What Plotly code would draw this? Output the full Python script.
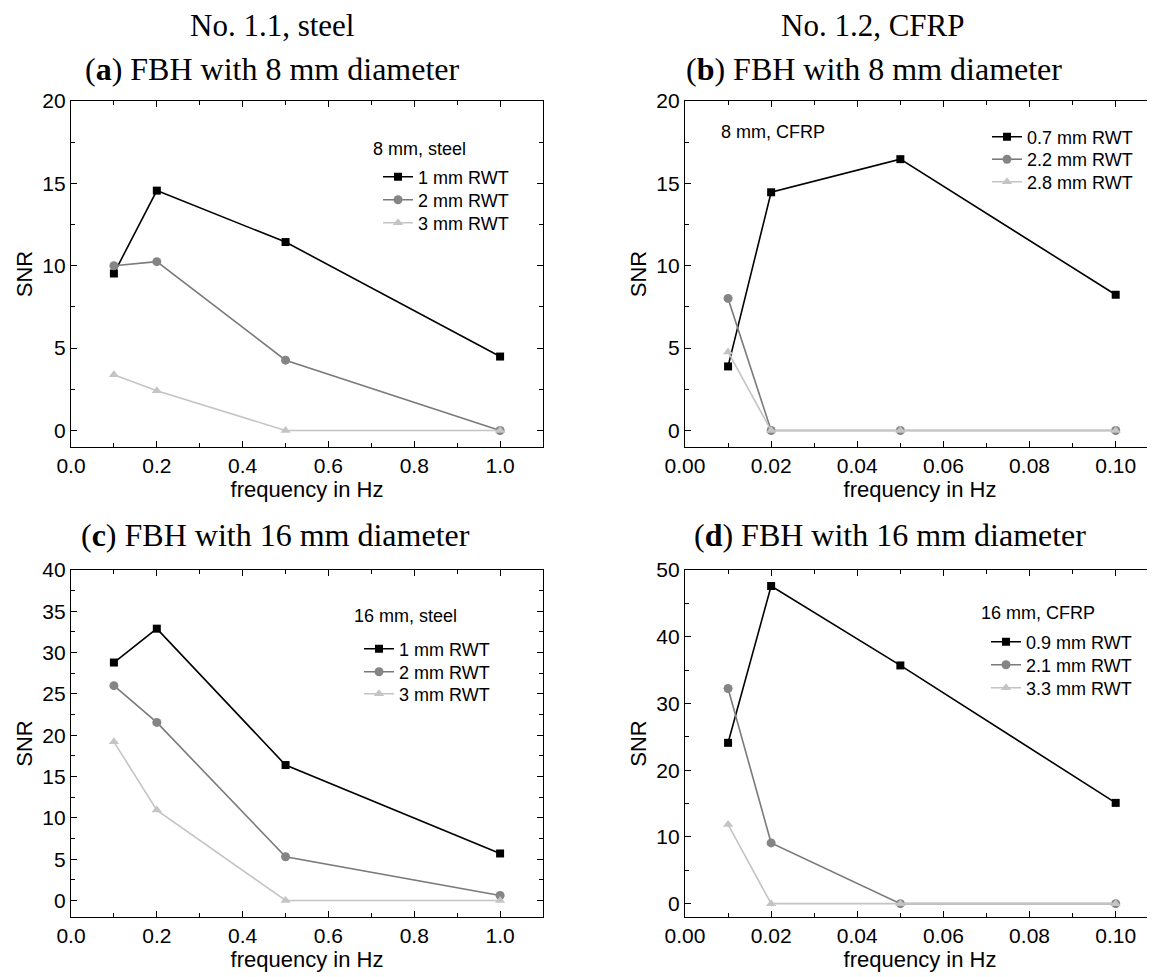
import plotly.graph_objects as go

# ---------------- data ----------------
freq_steel = [0.1, 0.2, 0.5, 1.0]
freq_cfrp = [0.01, 0.02, 0.05, 0.10]

a_names = ["1 mm RWT", "2 mm RWT", "3 mm RWT"]
a_1mm = [9.53, 14.56, 11.44, 4.49]
a_2mm = [10.0, 10.25, 4.27, 0.0]
a_3mm = [3.38, 2.42, 0.0, 0.0]

b_names = ["0.7 mm RWT", "2.2 mm RWT", "2.8 mm RWT"]
b_07mm = [3.89, 14.46, 16.47, 8.24]
b_22mm = [8.02, 0.0, 0.0, 0.0]
b_28mm = [4.77, 0.0, 0.0, 0.0]

c_names = ["1 mm RWT", "2 mm RWT", "3 mm RWT"]
c_1mm = [28.8, 32.9, 16.39, 5.69]
c_2mm = [26.0, 21.55, 5.29, 0.6]
c_3mm = [19.2, 10.94, 0.0, 0.0]

d_names = ["0.9 mm RWT", "2.1 mm RWT", "3.3 mm RWT"]
d_09mm = [24.1, 47.6, 35.7, 15.1]
d_21mm = [32.25, 9.1, 0.0, 0.0]
d_33mm = [11.85, 0.0, 0.0, 0.0]

legend_headers = ["8 mm, steel", "8 mm, CFRP", "16 mm, steel", "16 mm, CFRP"]
top_titles = ["No. 1.1, steel", "No. 1.2, CFRP"]
panel_titles = ["(<b>a</b>) FBH with 8 mm diameter", "(<b>b</b>) FBH with 8 mm diameter",
                "(<b>c</b>) FBH with 16 mm diameter", "(<b>d</b>) FBH with 16 mm diameter"]

# page body has an 8px default margin; figure is sized to fit the window
OFF = 8
W, H = 1155 - OFF, 977 - OFF
SANS = "Liberation Sans, Arial, sans-serif"
SERIF = "Liberation Serif, Times New Roman, serif"

styles = [
    dict(line=dict(color="#000000", width=1.6), marker=dict(symbol="square", size=8, color="#000000")),
    dict(line=dict(color="#7a7a7a", width=1.6), marker=dict(symbol="circle", size=9, color="#858585")),
    dict(line=dict(color="#c4c4c4", width=1.6), marker=dict(symbol="triangle-up", size=9, color="#c4c4c4")),
]

def px_x(p):
    return (p - OFF) / W

def px_y(p):
    return 1 - (p - OFF) / H

fig = go.Figure()

# legend placement (screen px): x of legend box, y of each entry centre
leg_pos = [
    (378, [177, 200, 223]),
    (987, [137, 159.5, 182]),
    (359, [649, 672, 694]),
    (986, [642, 665, 688]),
]

panels = [
    ("x", "y", freq_steel, [a_1mm, a_2mm, a_3mm], a_names),
    ("x2", "y2", freq_cfrp, [b_07mm, b_22mm, b_28mm], b_names),
    ("x3", "y3", freq_steel, [c_1mm, c_2mm, c_3mm], c_names),
    ("x4", "y4", freq_cfrp, [d_09mm, d_21mm, d_33mm], d_names),
]
legends = {}
k = 0
for p, (xa, ya, xs, series, names) in enumerate(panels):
    lx, lys = leg_pos[p]
    for s, n, st, ly in zip(series, names, styles, lys):
        k += 1
        lname = "legend" if k == 1 else f"legend{k}"
        fig.add_trace(go.Scatter(x=xs, y=s, name=n, mode="lines+markers",
                                 xaxis=xa, yaxis=ya, legend=lname,
                                 line=st["line"], marker=st["marker"]))
        legends[lname] = dict(x=px_x(lx), y=px_y(ly), xanchor="left", yanchor="middle",
                              bgcolor="rgba(0,0,0,0)", borderwidth=0,
                              font=dict(family=SANS, size=18, color="black"),
                              itemwidth=30)

left_dom = [px_x(71), px_x(543)]
right_dom = [px_x(685), 1.0]
top_dom = [px_y(447), px_y(101)]
bot_dom = [px_y(917), px_y(570)]

def common(dom, rng, dtick, anchor, fmt=None):
    d = dict(domain=dom, range=rng, dtick=dtick, anchor=anchor, automargin=False,
             showgrid=False, zeroline=False, showline=True, linecolor="black", linewidth=1.3,
             mirror="allticks", ticks="inside", ticklen=6, tickwidth=1.2, tickcolor="black",
             minor=dict(ticks="inside", ticklen=3.5, dtick=dtick / 2, tickcolor="black", tickwidth=1.0),
             tickfont=dict(family=SANS, size=21, color="black"))
    if fmt:
        d["tickformat"] = fmt
    return d

def xaxis(dom, rng, dtick, anchor, fmt):
    d = common(dom, rng, dtick, anchor, fmt)
    d["title"] = dict(text="frequency in Hz", font=dict(family=SANS, size=22, color="black"), standoff=4)
    return d

def yaxis(dom, rng, dtick, anchor):
    d = common(dom, rng, dtick, anchor)
    d["title"] = dict(text="SNR", font=dict(family=SANS, size=22, color="black"), standoff=3)
    return d

xr_right = 0.1 * (1155 - 685) / (1115.7 - 685)

fig.update_layout(
    template="none",
    width=W, height=H, margin=dict(l=0, r=0, t=0, b=0, autoexpand=False),
    paper_bgcolor="white", plot_bgcolor="white",
    xaxis=xaxis(left_dom, [0, 1.1], 0.2, "y", ".1f"),
    yaxis=yaxis(top_dom, [-1, 20], 5, "x"),
    xaxis2=xaxis(right_dom, [0, xr_right], 0.02, "y2", ".2f"),
    yaxis2=yaxis(top_dom, [-1, 20], 5, "x2"),
    xaxis3=xaxis(left_dom, [0, 1.1], 0.2, "y3", ".1f"),
    yaxis3=yaxis(bot_dom, [-2, 40], 5, "x3"),
    xaxis4=xaxis(right_dom, [0, xr_right], 0.02, "y4", ".2f"),
    yaxis4=yaxis(bot_dom, [-2, 50], 10, "x4"),
    showlegend=True,
    **legends,
)

# titles (screen px centres)
for t, (x, y) in zip(top_titles, [(272, 25), (872, 25)]):
    fig.add_annotation(text=t, x=px_x(x), y=px_y(y), xref="paper", yref="paper",
                       xanchor="center", yanchor="middle", showarrow=False,
                       font=dict(family=SERIF, size=31, color="black"))
for t, (x, y) in zip(panel_titles, [(272, 69), (874, 69), (275, 535), (890, 535)]):
    fig.add_annotation(text=t, x=px_x(x), y=px_y(y), xref="paper", yref="paper",
                       xanchor="center", yanchor="middle", showarrow=False,
                       font=dict(family=SERIF, size=32, color="black"))

# legend headers
for t, (x, y) in zip(legend_headers, [(371, 149), (719, 132), (352, 616), (979, 613)]):
    fig.add_annotation(text=t, x=px_x(x), y=px_y(y), xref="paper", yref="paper",
                       xanchor="left", yanchor="middle", showarrow=False,
                       font=dict(family=SANS, size=18, color="black"))

fig.write_html("out.html")
